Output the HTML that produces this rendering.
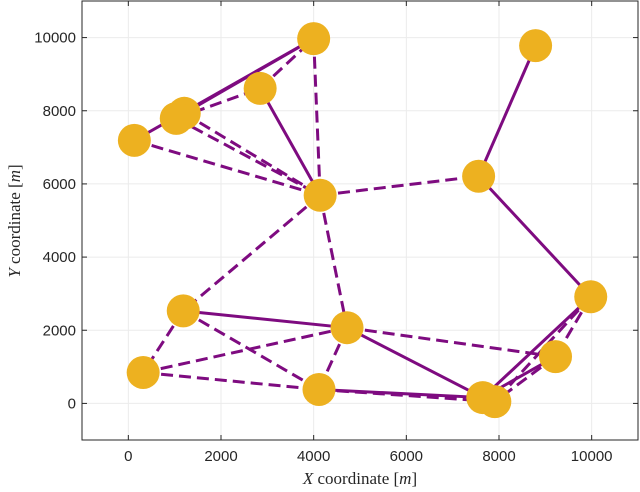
<!DOCTYPE html>
<html><head><meta charset="utf-8"><style>
html,body{margin:0;padding:0;background:#fff;}
svg{display:block;font-family:"Liberation Sans",sans-serif;}
</style></head><body>
<svg id="chart" width="640" height="492"></svg>
<script>
const nodeX=[4000,8790,2845,1207,1034,130,4140,7560,9980,1185,4720,320,9220,4115,7650,7910];
const nodeY=[9970,9780,8610,7930,7790,7190,5690,6210,2915,2530,2070,845,1280,380,160,50];
const edgeFrom=[5,3,2,1,7,9,10,13,8,12,4,2,0,5,3,4,6,6,6,9,11,11,9,10,10,13,8,12,8];
const edgeTo  =[0,0,6,7,8,10,14,14,14,14,2,0,6,6,6,6,7,9,10,11,13,10,13,13,12,15,15,15,12];
const edgeDash=[0,0,0,0,0,0,0,0,0,0,1,1,1,1,1,1,1,1,1,1,1,1,1,1,1,1,1,1,1];
const xTicks=[0,2000,4000,6000,8000,10000];
const yTicks=[0,2000,4000,6000,8000,10000];
const NS="http://www.w3.org/2000/svg";
const svg=document.getElementById('chart');
const L=82,R=638,T=1,B=440;
const sx=v=>L+(v+1000)/12000*(R-L);
const sy=v=>B-(v+1000)/12000*(B-T);
function mk(t,a){const e=document.createElementNS(NS,t);for(const k in a)e.setAttribute(k,a[k]);svg.appendChild(e);return e;}
let bg=mk('rect',{x:L,y:T,width:R-L,height:B-T,fill:'#fff'});


xTicks.forEach(v=>{let g=mk('line',{x1:sx(v),x2:sx(v),y1:T,y2:B,stroke:'#ebebeb','stroke-width':1});


let t=mk('text',{x:sx(v),y:B+21,'text-anchor':'middle','font-size':15,fill:'#262626'});t.textContent=v;

});
yTicks.forEach(v=>{let g=mk('line',{x1:L,x2:R,y1:sy(v),y2:sy(v),stroke:'#ebebeb','stroke-width':1});


let t=mk('text',{x:L-6,y:sy(v)+5,'text-anchor':'end','font-size':15,fill:'#262626'});t.textContent=v;

});
edgeFrom.forEach((f,i)=>{const t=edgeTo[i];
let l=mk('line',{x1:sx(nodeX[f]),y1:sy(nodeY[f]),x2:sx(nodeX[t]),y2:sy(nodeY[t]),stroke:'#7e0b80','stroke-width':3});
if(edgeDash[i])l.setAttribute('stroke-dasharray','12 6');

});
nodeX.forEach((x,i)=>{let c=mk('circle',{cx:sx(x),cy:sy(nodeY[i]),r:16.5,fill:'#edb120'});

});
let ax=mk('rect',{x:L,y:T,width:R-L,height:B-T,fill:'none',stroke:'#262626','stroke-width':1});


xTicks.forEach(v=>{mk('line',{x1:sx(v),x2:sx(v),y1:B,y2:B-5,stroke:'#262626'});mk('line',{x1:sx(v),x2:sx(v),y1:T,y2:T+5,stroke:'#262626'});});
yTicks.forEach(v=>{mk('line',{x1:L,x2:L+5,y1:sy(v),y2:sy(v),stroke:'#262626'});mk('line',{x1:R,x2:R-5,y1:sy(v),y2:sy(v),stroke:'#262626'});});
</script>
<svg style="position:absolute;left:0;top:0" width="640" height="492">
<text x="360" y="484" text-anchor="middle" font-size="17" fill="#262626" font-family="Liberation Serif, serif"><tspan font-style="italic">X</tspan> coordinate [<tspan font-style="italic">m</tspan>]</text>
<text transform="translate(20,221) rotate(-90)" text-anchor="middle" font-size="17" fill="#262626" font-family="Liberation Serif, serif"><tspan font-style="italic">Y</tspan> coordinate [<tspan font-style="italic">m</tspan>]</text>
</svg>
</body></html>
